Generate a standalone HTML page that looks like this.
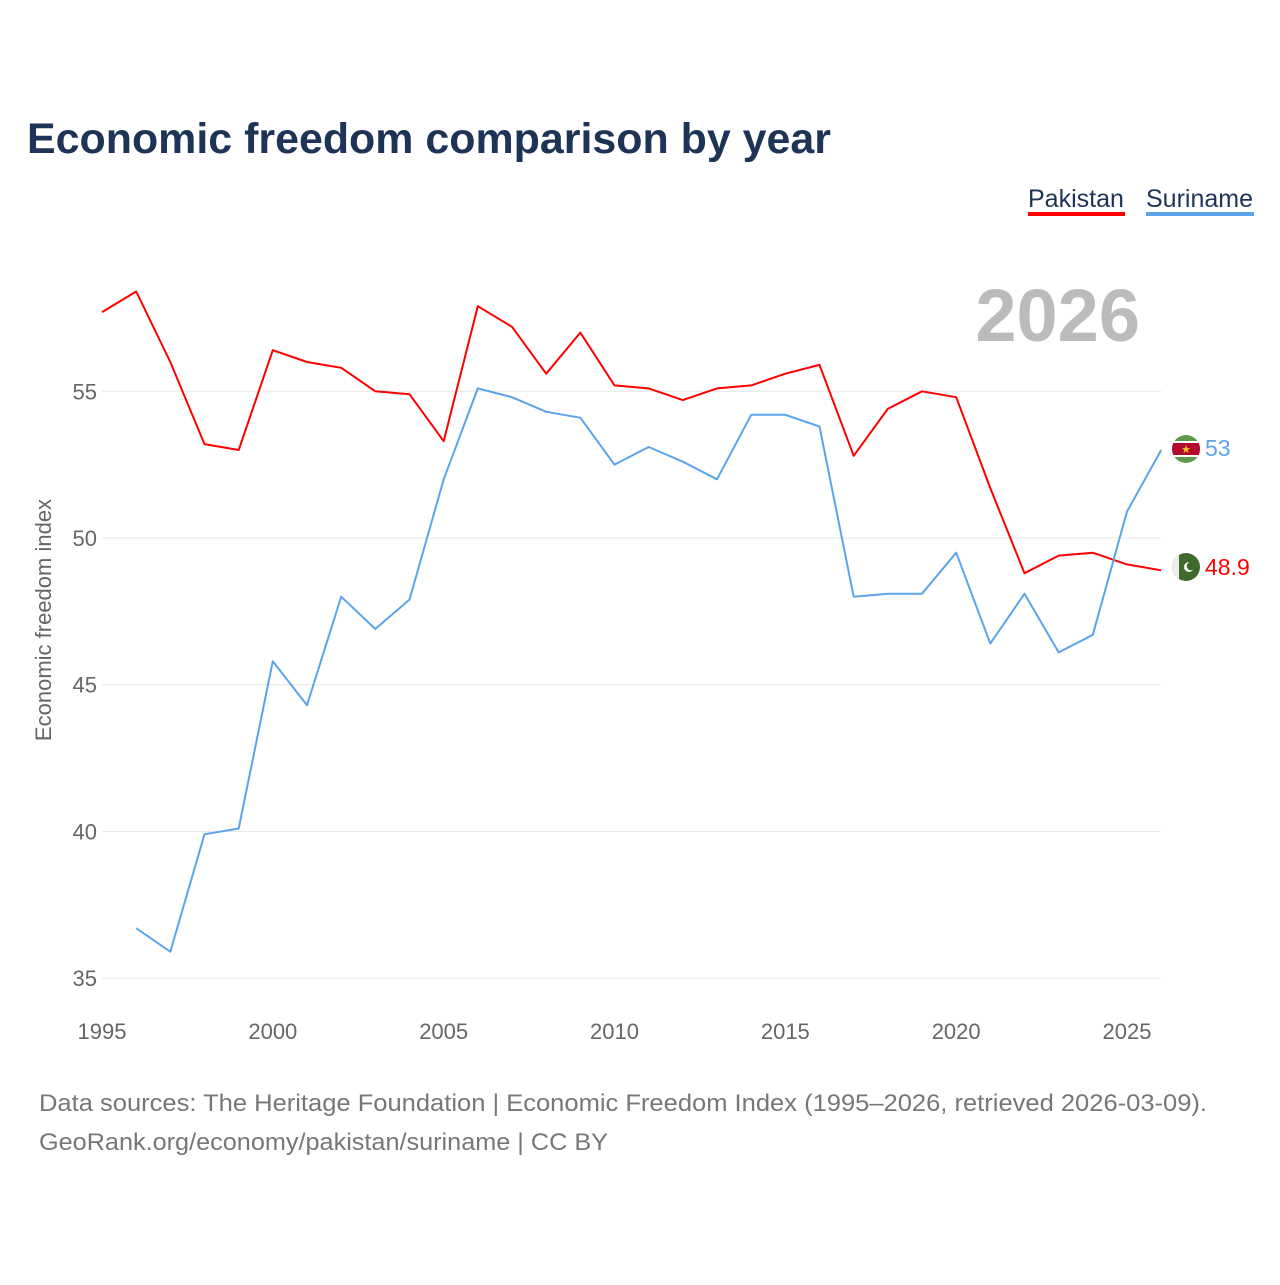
<!DOCTYPE html>
<html><head><meta charset="utf-8"><style>
body{margin:0;background:#fff;font-family:"Liberation Sans",sans-serif;}
</style></head><body>
<svg width="1280" height="1280" xmlns="http://www.w3.org/2000/svg">
<text x="27" y="153" font-size="43" font-weight="bold" fill="#1d3456" textLength="804" lengthAdjust="spacingAndGlyphs">Economic freedom comparison by year</text>
<g><text x="1028" y="207" font-size="25" fill="#1d3456">Pakistan</text><rect x="1028" y="212" width="97" height="4" fill="#ff0000"/></g>
<g><text x="1146" y="207" font-size="25" fill="#1d3456">Suriname</text><rect x="1146" y="212" width="108" height="4" fill="#5ba4ec"/></g>
<text x="1140" y="341" font-size="74" font-weight="bold" fill="#bbbbbb" text-anchor="end">2026</text>
<g id="grid"></g><g id="xt"></g><g id="lines"></g>
<text transform="translate(51,620) rotate(-90)" font-size="22" fill="#666" text-anchor="middle">Economic freedom index</text>
<text x="39" y="1111" font-size="24" fill="#777" textLength="1168" lengthAdjust="spacingAndGlyphs">Data sources: The Heritage Foundation | Economic Freedom Index (1995–2026, retrieved 2026-03-09).</text>
<text x="39" y="1150" font-size="24" fill="#777" textLength="569" lengthAdjust="spacingAndGlyphs">GeoRank.org/economy/pakistan/suriname | CC BY</text>
<g>
<clipPath id="c1"><circle cx="1186" cy="449" r="14"/></clipPath>
<g clip-path="url(#c1)"><rect x="1170" y="435" width="32" height="28" fill="#5f9a4a"/><rect x="1170" y="441" width="32" height="16" fill="#fff"/><rect x="1170" y="443" width="32" height="12" fill="#b40a2d"/></g>
<text x="1186" y="453" font-size="11" fill="#ecc81d" text-anchor="middle">★</text></g>
<g>
<clipPath id="c2"><circle cx="1186" cy="567" r="14"/></clipPath>
<g clip-path="url(#c2)"><rect x="1172" y="553" width="28" height="28" fill="#3f6a2c"/><rect x="1172" y="553" width="7" height="28" fill="#eee"/></g>
<circle cx="1189" cy="567" r="5" fill="#fff"/><circle cx="1191" cy="566" r="4.3" fill="#3f6a2c"/></g>
<text x="1205" y="456" font-size="23" fill="#5ba4ec">53</text>
<text x="1205" y="575" font-size="23" fill="#ff0000">48.9</text>
</svg>
<script>
const years=[1995,1996,1997,1998,1999,2000,2001,2002,2003,2004,2005,2006,2007,2008,2009,2010,2011,2012,2013,2014,2015,2016,2017,2018,2019,2020,2021,2022,2023,2024,2025,2026];
const pakistan=[57.7,58.4,56.0,53.2,53.0,56.4,56.0,55.8,55.0,54.9,53.3,57.9,57.2,55.6,57.0,55.2,55.1,54.7,55.1,55.2,55.6,55.9,52.8,54.4,55.0,54.8,51.7,48.8,49.4,49.5,49.1,48.9];
const suriname=[null,36.7,35.9,39.9,40.1,45.8,44.3,48.0,46.9,47.9,52.0,55.1,54.8,54.3,54.1,52.5,53.1,52.6,52.0,54.2,54.2,53.8,48.0,48.1,48.1,49.5,46.4,48.1,46.1,46.7,50.9,53.0];
const yTicks=[35,40,45,50,55];
const xTicks=[1995,2000,2005,2010,2015,2020,2025];
const NS="http://www.w3.org/2000/svg";
const X=y=>102+(y-1995)*(1127-102)/30;
const Y=v=>538-(v-50)*29.34;
function mk(t,a,p){const e=document.createElementNS(NS,t);for(const k in a)e.setAttribute(k,a[k]);p.appendChild(e);return e;}
const g=document.getElementById('grid');
yTicks.forEach(v=>{
const l=mk('line',{x1:102,x2:1161,y1:Y(v),y2:Y(v),stroke:'#e6e6e6','stroke-width':1},g);


const t=mk('text',{x:97,y:Y(v)+8,'font-size':22,fill:'#666','text-anchor':'end'},g);
t.textContent=v;


});
const xt=document.getElementById('xt');
xTicks.forEach(v=>{
const t=mk('text',{x:X(v),y:1039,'font-size':22,fill:'#666','text-anchor':'middle'},xt);
t.textContent=v;


});
const lg=document.getElementById('lines');
function line(vals,col,name){
let d='';vals.forEach((v,i)=>{if(v==null)return;d+=(d?'L':'M')+X(years[i]).toFixed(1)+','+Y(v).toFixed(1);});
const p=mk('path',{d:d,fill:'none',stroke:col,'stroke-width':2,'stroke-linejoin':'round'},lg);


}
line(pakistan,'#ff0000','pakistan-line');
line(suriname,'#5ba4ec','suriname-line');
</script>
</body></html>
